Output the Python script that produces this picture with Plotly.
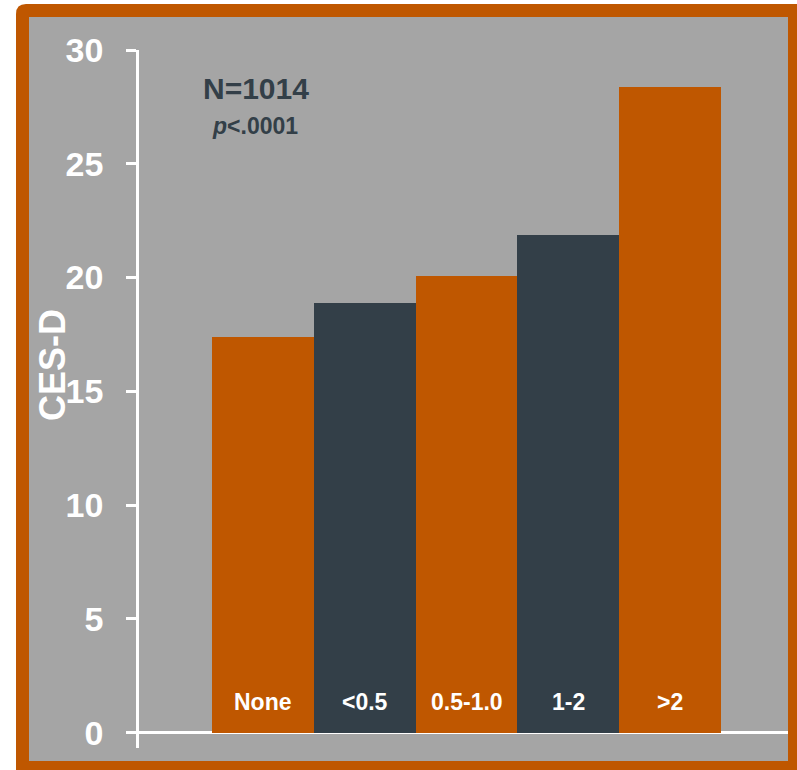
import plotly.graph_objects as go

# Hours-per-day groups and mean CES-D score for each
categories = ["None", "<0.5", "0.5-1.0", "1-2", ">2"]
ces_d = [17.37, 18.87, 20.08, 21.88, 28.38]
y_ticks = [0, 5, 10, 15, 20, 25, 30]

ORANGE = "#BF5700"
SLATE = "#333F48"
GRAY = "#A5A5A5"
FONT = "Liberation Sans, Arial, sans-serif"

bar_colors = [ORANGE, SLATE, ORANGE, SLATE, ORANGE]

W, H = 797, 770
L, R, T, B = 139, 9, 50, 22
PW, PH = W - L - R, H - T - B


def px_x(px):
    return (px - L) / PW


def px_y(py):
    return (H - B - py) / PH


fig = go.Figure()
fig.add_trace(go.Bar(
    x=categories,
    y=ces_d,
    marker=dict(color=bar_colors, line=dict(width=0)),
    width=1.0,
    hoverinfo="x+y",
))

# Frame: orange rounded panel with a gray inner card
x0, y0 = px_x(16), px_y(4)
x1, y1 = px_x(805), px_y(780)
rx, ry = 10 / PW, 10 / PH
frame_path = (
    f"M {x0},{y1} L {x0},{y0 - ry} Q {x0},{y0} {x0 + rx},{y0} "
    f"L {x1},{y0} L {x1},{y1} Z"
)
fig.add_shape(type="path", path=frame_path, xref="paper", yref="paper",
              fillcolor=ORANGE, line=dict(width=0), layer="below")
fig.add_shape(type="rect", xref="paper", yref="paper",
              x0=px_x(29), x1=px_x(788), y0=px_y(17), y1=px_y(761),
              fillcolor=GRAY, line=dict(width=0), layer="below")

# Category names written inside the foot of each bar
for cat in categories:
    fig.add_annotation(x=cat, y=0, xref="x", yref="y", text=f"<b>{cat}</b>",
                       showarrow=False, xanchor="center", yanchor="bottom",
                       yshift=16,
                       font=dict(family=FONT, size=23, color="white"))

fig.add_annotation(x=px_x(256), y=px_y(88), xref="paper", yref="paper",
                   text="<b>N=1014</b>", showarrow=False,
                   xanchor="center", yanchor="middle",
                   font=dict(family=FONT, size=30, color=SLATE))
fig.add_annotation(x=px_x(255), y=px_y(126), xref="paper", yref="paper",
                   text="<b><i>p</i>&lt;.0001</b>", showarrow=False,
                   xanchor="center", yanchor="middle",
                   font=dict(family=FONT, size=23, color=SLATE))
fig.add_annotation(x=px_x(52), y=px_y(365), xref="paper", yref="paper",
                   text="<b>CES-D</b>", showarrow=False, textangle=-90,
                   xanchor="center", yanchor="middle",
                   font=dict(family=FONT, size=36, color="white"))

fig.update_layout(
    width=W, height=H,
    margin=dict(l=L, r=R, t=T, b=B, pad=0),
    paper_bgcolor="white",
    plot_bgcolor="rgba(0,0,0,0)",
    bargap=0,
    showlegend=False,
    xaxis=dict(
        type="category",
        range=[-1.221, 5.160],
        showticklabels=False,
        showgrid=False,
        zeroline=False,
        showline=False,
        ticks="",
        fixedrange=True,
    ),
    yaxis=dict(
        range=[-0.672, 30],
        tickvals=y_ticks,
        ticktext=[f"<b>{v}</b>" for v in y_ticks],
        tickfont=dict(family=FONT, size=34, color="white"),
        ticks="outside",
        ticklen=10,
        tickwidth=2.5,
        tickcolor="white",
        ticklabelstandoff=16,
        showline=True,
        linecolor="white",
        linewidth=2.5,
        showgrid=False,
        zeroline=True,
        zerolinecolor="white",
        zerolinewidth=2.5,
        fixedrange=True,
    ),
)

fig.write_html("out.html")
